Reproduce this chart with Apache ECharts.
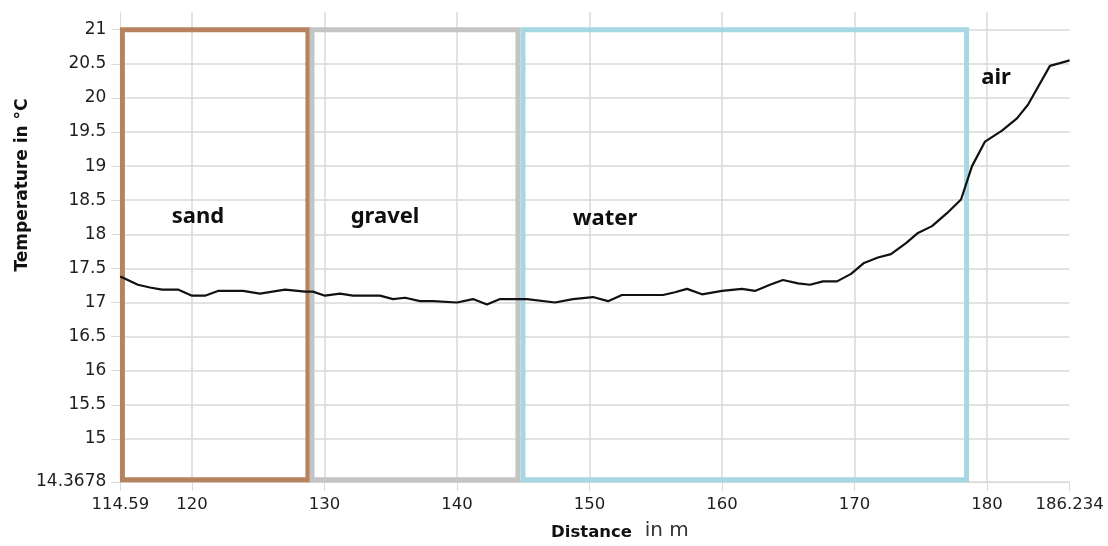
<!DOCTYPE html>
<html>
<head>
<meta charset="utf-8">
<script src="https://cdn.jsdelivr.net/npm/echarts@6/dist/echarts.min.js"></script>
<style>
  html, body { margin: 0; padding: 0; background: #ffffff; }
  #chart { width: 1108px; height: 546px; }
</style>
</head>
<body>
<div id="chart"></div>
<script>
// ---- data ----
const distances = [114.59, 115.92, 116.83, 117.74, 118.94, 120.0, 120.98, 121.96, 123.85, 125.13,
  127.02, 128.53, 129.13, 130.04, 131.17, 132.15, 134.19, 135.17, 136.08, 137.21,
  138.19, 140.0, 141.21, 142.26, 143.25, 144.23, 145.28, 147.40, 148.75, 150.26,
  151.40, 152.45, 155.55, 156.45, 157.36, 158.49, 160.0, 161.51, 162.49, 163.62,
  164.60, 165.74, 166.64, 167.62, 168.68, 169.74, 170.72, 171.77, 172.75, 173.89,
  174.79, 175.85, 176.98, 178.04, 178.87, 179.85, 181.13, 182.26, 183.09, 184.75,
  185.5, 186.234];
const temperatures = [17.38, 17.26, 17.22, 17.19, 17.19, 17.10, 17.10, 17.17, 17.17, 17.13,
  17.19, 17.16, 17.16, 17.10, 17.13, 17.10, 17.10, 17.05, 17.07, 17.02,
  17.02, 17.00, 17.05, 16.97, 17.05, 17.05, 17.05, 17.00, 17.05, 17.08,
  17.02, 17.11, 17.11, 17.15, 17.20, 17.12, 17.17, 17.20, 17.17, 17.26,
  17.33, 17.28, 17.26, 17.31, 17.31, 17.42, 17.58, 17.66, 17.71, 17.87,
  18.02, 18.12, 18.31, 18.51, 19.00, 19.36, 19.52, 19.70, 19.90, 20.47,
  20.51, 20.55];

const xTickValues = [114.59, 120, 130, 140, 150, 160, 170, 180, 186.234];
const yTickValues = [14.3678, 15, 15.5, 16, 16.5, 17, 17.5, 18, 18.5, 19, 19.5, 20, 20.5, 21];
const xMin = 114.59, xMax = 186.234;
const yMin = 14.3678, yMax = 21.26;

// material zones (boxes)
const zoneStart = [114.75, 129.06, 144.98];
const zoneEnd = [128.75, 144.60, 178.46];
const zoneTop = [21, 21, 21];
const zoneBottom = [14.40, 14.40, 14.40];

// annotation labels
const annotationText = ['sand', 'gravel', 'water', 'air'];
const annotationX = [120.45, 134.57, 151.17, 180.68];
const annotationY = [18.26, 18.26, 18.23, 20.30];

// ---- styles ----
const zoneColors = ['#b7835f', '#c4c4c4', '#a6d7e3'];
const gridColor = '#d9d9d9';
const textColor = '#1e1e1e';

const lineData = distances.map((d, i) => [d, temperatures[i]]);
const markAreaData = zoneStart.map((s, i) => [
  { xAxis: s, yAxis: zoneTop[i], itemStyle: { color: 'rgba(0,0,0,0)', borderColor: zoneColors[i], borderWidth: 5 } },
  { xAxis: zoneEnd[i], yAxis: zoneBottom[i] }
]);
const annotationData = annotationText.map((t, i) => ({ name: t, value: [annotationX[i], annotationY[i]] }));

const chart = echarts.init(document.getElementById('chart'), null, { renderer: 'canvas' });
chart.setOption({
  animation: false,
  backgroundColor: '#ffffff',
  grid: { left: 120.3, right: 38.4, top: 12, bottom: 62 },
  xAxis: {
    type: 'value',
    min: xMin,
    max: xMax,
    name: '{b|Distance}{n|  in m}',
    nameLocation: 'middle',
    nameGap: 39,
    nameMoveOverlap: false,
    nameTextStyle: {
      padding: [0, 0, 0, 50],
      rich: {
        b: { fontFamily: 'DejaVu Sans', fontWeight: 'bold', fontSize: 16.5, color: '#111111', verticalAlign: 'bottom' },
        n: { fontFamily: 'DejaVu Sans', fontSize: 20, color: '#333333', verticalAlign: 'bottom' }
      }
    },
    axisLine: { show: true, lineStyle: { color: gridColor, width: 1 } },
    axisTick: { show: true, length: 9, customValues: xTickValues, lineStyle: { color: gridColor } },
    axisLabel: {
      customValues: xTickValues,
      formatter: v => String(v),
      margin: 14,
      fontFamily: 'DejaVu Sans',
      fontSize: 16.5,
      color: textColor,
      showMinLabel: true,
      showMaxLabel: true
    },
    splitLine: { show: true, showMinLine: false, showMaxLine: false, lineStyle: { color: gridColor, width: 1.5 } }
  },
  yAxis: {
    type: 'value',
    min: yMin,
    max: yMax,
    name: 'Temperature in °C',
    nameLocation: 'middle',
    nameGap: 89,
    nameMoveOverlap: false,
    nameRotate: 90,
    nameTextStyle: {
      fontFamily: 'DejaVu Sans',
      fontWeight: 'bold',
      fontSize: 17,
      color: '#111111',
      padding: [0, 0, 0, 124]
    },
    axisLine: { show: true, lineStyle: { color: gridColor, width: 1 } },
    axisTick: { show: true, length: 9, customValues: yTickValues, lineStyle: { color: gridColor } },
    axisLabel: {
      customValues: yTickValues,
      formatter: v => String(v),
      margin: 14,
      fontFamily: 'DejaVu Sans',
      fontSize: 17,
      color: textColor
    },
    splitLine: { show: true, lineStyle: { color: gridColor, width: 1.5 } }
  },
  series: [
    {
      name: 'Temperature',
      type: 'line',
      data: lineData,
      symbol: 'none',
      smooth: false,
      lineStyle: { color: '#111111', width: 2.2 },
      z: 5,
      markArea: {
        silent: true,
        label: { show: false },
        data: markAreaData
      }
    },
    {
      name: 'labels',
      type: 'scatter',
      data: annotationData,
      symbolSize: 0,
      silent: true,
      z: 6,
      itemStyle: { opacity: 1 },
      label: {
        show: true,
        position: 'inside',
        formatter: p => p.name,
        fontFamily: 'Noto Sans',
        fontWeight: 'bold',
        fontSize: 22,
        color: '#0f0f0f',
        opacity: 1,
        textBorderWidth: 0
      },
      labelLayout: { hideOverlap: false }
    }
  ]
});
</script>
</body>
</html>
